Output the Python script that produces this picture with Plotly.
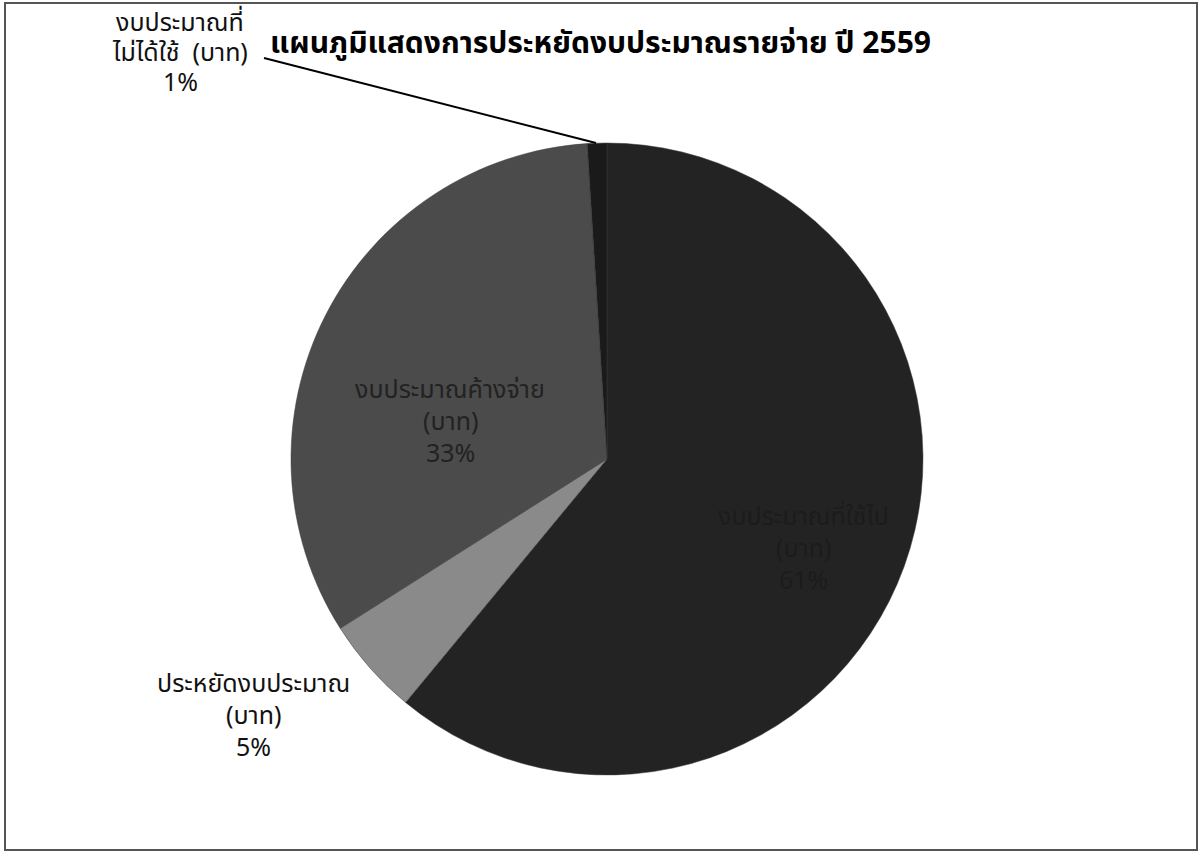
import plotly.graph_objects as go

W, H = 1203, 854

categories = ["งบประมาณที่ใช้ไป (บาท)", "ประหยัดงบประมาณ (บาท)",
              "งบประมาณค้างจ่าย (บาท)", "งบประมาณที่ไม่ได้ใช้ (บาท)"]
label_lines = [["งบประมาณที่ใช้ไป", "(บาท)"],
               ["ประหยัดงบประมาณ", "(บาท)"],
               ["งบประมาณค้างจ่าย", "(บาท)"],
               ["งบประมาณที่", "ไม่ได้ใช้  (บาท)"]]
values = [61, 5, 33, 1]
colors = ["#232323", "#8a8a8a", "#4b4b4b", "#1a1a1a"]
title = "แผนภูมิแสดงการประหยัดงบประมาณรายจ่าย ปี 2559"

FONT = "Tahoma, 'Noto Sans Thai', Loma, 'Noto Sans', sans-serif"

def px(x):
    return x / W

def py(y):
    return 1 - y / H

cx, cy, r = 607, 459, 316

fig = go.Figure(go.Pie(
    labels=categories,
    values=values,
    sort=False,
    direction="clockwise",
    rotation=0,
    marker=dict(colors=colors, line=dict(color="#3a3a3a", width=0.5)),
    textinfo="none",
    hoverinfo="label+percent",
    domain=dict(x=[px(cx - r), px(cx + r)], y=[py(cy + r), py(cy - r)]),
    showlegend=False,
))

total = sum(values)
pcts = [round(v / total * 100) for v in values]

# first-line pixel centre of each label block, text colour, font size, spacing
label_pos = [(803, 517, "#1c1c1c", 25, 32), (254, 684, "#111111", 25, 32),
             (450, 390, "#222222", 25, 32), (180, 23, "#111111", 25, 30)]

annotations = []
for lines, pct, (lx, ly, col, fs, step) in zip(label_lines, pcts, label_pos):
    for i, t in enumerate(lines + [f"{pct}%"]):
        annotations.append(dict(
            x=px(lx), y=py(ly + i * step), xref="paper", yref="paper",
            text=t, showarrow=False, align="center",
            font=dict(family=FONT, size=fs, color=col),
            xanchor="center", yanchor="middle",
        ))

annotations.append(dict(
    x=px(600), y=py(44), xref="paper", yref="paper",
    text=f"<b>{title}</b>", showarrow=False,
    font=dict(family=FONT, size=30, color="#000000"),
    xanchor="center", yanchor="middle",
))

shapes = [
    # leader line for the smallest slice
    dict(type="line", xref="paper", yref="paper",
         x0=px(264), y0=py(58), x1=px(596), y1=py(143),
         line=dict(color="#000000", width=2)),
    # outer frame
    dict(type="rect", xref="paper", yref="paper",
         x0=px(5), y0=py(3), x1=px(1197), y1=py(850),
         line=dict(color="#555555", width=2)),
]

fig.update_layout(
    width=W, height=H,
    margin=dict(l=0, r=0, t=0, b=0),
    paper_bgcolor="#ffffff",
    plot_bgcolor="#ffffff",
    annotations=annotations,
    shapes=shapes,
    font=dict(family=FONT),
)

fig.write_html("out.html",
               config={"displayModeBar": False},
               post_script="document.body.style.margin='0';"
                           "document.body.style.overflow='hidden';")
